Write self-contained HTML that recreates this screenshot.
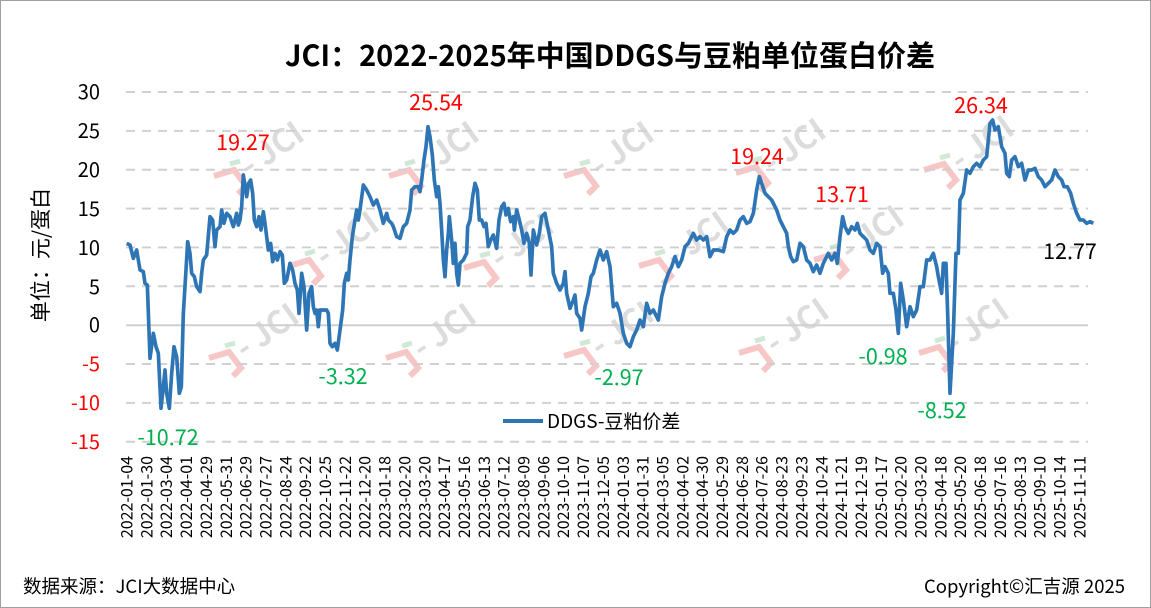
<!DOCTYPE html>
<html><head><meta charset="utf-8"><style>
html,body{margin:0;padding:0;background:#fff}
svg{display:block}
text{font-family:"Noto Sans CJK SC","Liberation Sans",sans-serif}
</style></head><body>
<svg width="1151" height="608" xmlns="http://www.w3.org/2000/svg">
<rect x="0.5" y="0.5" width="1150" height="607" fill="#fff" stroke="#a0a0a0"/>
<defs>
<g id="wm">
<path d="M-36,-2 L-16,-8 L-4,8 L-12,16" fill="none" stroke="#f7c6c6" stroke-width="6"/>
<path d="M-20,-14 L-10,-17" stroke="#cfe9d6" stroke-width="5"/>
<text x="0" y="0" font-size="32" fill="#dcdcdc" transform="rotate(-35)" font-weight="bold">- JCI</text>
</g>
</defs>
<g>
<use href="#wm" x="250" y="178"/><use href="#wm" x="425" y="178"/><use href="#wm" x="600" y="178"/><use href="#wm" x="772" y="175"/><use href="#wm" x="960" y="172"/>
<use href="#wm" x="325" y="268"/><use href="#wm" x="500" y="270"/><use href="#wm" x="675" y="268"/><use href="#wm" x="850" y="262"/>
<use href="#wm" x="245" y="360"/><use href="#wm" x="422" y="360"/><use href="#wm" x="600" y="358"/><use href="#wm" x="775" y="355"/><use href="#wm" x="955" y="355"/>
</g>
<text x="610" y="66" font-size="29" font-weight="bold" text-anchor="middle" fill="#000">JCI：2022-2025年中国DDGS与豆粕单位蛋白价差</text>
<g stroke="#d0d0d0" stroke-width="2" stroke-dasharray="9,7">
<line x1="126" y1="92" x2="1088" y2="92"/><line x1="126" y1="130.9" x2="1088" y2="130.9"/><line x1="126" y1="169.7" x2="1088" y2="169.7"/><line x1="126" y1="208.6" x2="1088" y2="208.6"/><line x1="126" y1="247.4" x2="1088" y2="247.4"/><line x1="126" y1="286.3" x2="1088" y2="286.3"/><line x1="126" y1="364" x2="1088" y2="364"/><line x1="126" y1="402.9" x2="1088" y2="402.9"/><line x1="126" y1="441.7" x2="1088" y2="441.7"/>
</g>
<line x1="126" y1="325.2" x2="1088" y2="325.2" stroke="#d0d0d0" stroke-width="2"/>
<g font-size="20" text-anchor="end">
<text x="100" y="99">30</text><text x="100" y="138">25</text><text x="100" y="177">20</text><text x="100" y="216">15</text><text x="100" y="255">10</text><text x="100" y="294">5</text><text x="100" y="332">0</text>
<text x="100" y="371" fill="#ff0000">-5</text><text x="100" y="410" fill="#ff0000">-10</text><text x="100" y="449" fill="#ff0000">-15</text>
</g>
<text transform="translate(48,255) rotate(-90)" font-size="21" text-anchor="middle">单位：元/蛋白</text>
<g fill="none" stroke="#2e75b6" stroke-width="11" stroke-linejoin="round" transform="translate(100,80) scale(0.33333)">
<polyline points="80,490 90,495 100,535 110,510 120,570 130,575 135,610 142,615 150,835 160,760 168,800 175,820 183,985 190,920 195,870 200,940 208,985 215,880 222,800 230,830 238,940 244,920 250,700 258,570 263,485 270,520 275,580 283,590 290,620 300,635 305,580 310,540 320,525 330,410 338,420 345,500 350,450 360,440 365,390 372,430 380,400 390,410 400,440 410,400 415,435 420,420 425,380 430,285 440,350 446,310 452,300 458,340 463,420 470,440 477,410 483,450 490,395 495,430 500,470 505,510 512,490 518,545 525,520 532,540 540,515 547,525 553,610 560,600 570,550 578,570 585,610 592,630 597,700 605,580 612,620 620,750 627,640 635,620 640,680 645,700 650,690 655,740 660,690 670,690 680,690 685,700 690,790 697,800 705,790 712,810 720,750 728,690 733,610 740,580 745,600 750,540 757,470 765,420 770,390 775,420 780,390 790,315 800,330 810,350 820,375 830,360 840,390 850,430 860,400 865,420 875,430 880,440 890,470 900,475 910,440 920,430 930,390 935,330 945,320 955,320 960,335 965,300 972,240 978,200 984,140 990,170 997,225 1003,300 1010,350 1015,320 1020,370 1025,450 1030,540 1035,590 1040,510 1045,460 1048,410 1055,480 1060,550 1065,490 1070,580 1075,615 1080,550 1090,540 1100,520 1103,440 1110,420 1118,350 1125,310 1132,330 1138,420 1145,420 1152,440 1158,430 1165,500 1172,480 1180,465 1190,505 1197,420 1205,380 1212,370 1218,405 1225,385 1232,425 1240,410 1243,450 1250,390 1258,420 1265,450 1272,490 1280,460 1288,490 1293,585 1300,450 1310,495 1318,460 1325,410 1335,400 1345,450 1355,500 1360,580 1370,610 1380,630 1390,610 1395,575 1400,640 1410,685 1420,660 1425,645 1430,700 1440,715 1445,750 1455,680 1465,640 1473,590 1480,580 1490,540 1500,510 1510,540 1520,515 1530,560 1540,680 1550,670 1560,700 1570,760 1580,790 1590,800 1600,770 1610,750 1620,720 1630,740 1640,670 1650,700 1660,690 1675,720 1685,650 1695,610 1705,580 1715,560 1725,530 1735,560 1745,540 1755,500 1765,490 1780,460 1790,480 1800,470 1810,480 1820,470 1830,530 1840,510 1855,510 1870,515 1880,470 1890,450 1900,460 1910,450 1920,420 1930,410 1940,430 1950,425 1960,400 1970,330 1978,290 1985,310 1995,340 2005,350 2015,360 2030,390 2040,420 2050,440 2060,460 2065,500 2072,530 2080,545 2090,540 2100,490 2110,500 2120,540 2130,550 2140,575 2150,555 2160,580 2170,550 2185,520 2195,540 2205,520 2212,550 2220,470 2228,410 2235,440 2245,460 2255,440 2265,450 2272,430 2280,460 2290,470 2300,480 2310,510 2320,520 2330,490 2340,500 2348,580 2355,560 2365,580 2370,640 2380,640 2388,690 2395,760 2402,610 2410,660 2420,740 2430,680 2440,710 2450,690 2460,620 2470,620 2480,540 2490,540 2500,520 2510,560 2515,590 2525,640 2530,550 2538,550 2543,700 2550,940 2560,760 2568,520 2575,520 2580,360 2590,340 2600,270 2610,280 2620,260 2630,250 2640,260 2650,240 2660,230 2670,130 2678,120 2685,150 2695,140 2705,200 2715,220 2720,280 2728,290 2735,240 2745,230 2755,260 2765,250 2775,300 2785,270 2795,270 2805,265 2815,290 2825,300 2835,320 2845,310 2855,300 2865,270 2875,290 2885,300 2892,320 2902,320 2912,340 2920,370 2930,400 2940,420 2950,420 2960,430 2970,425 2980,430"/>
</g>
<g font-size="21.5" text-anchor="middle">
<text x="243" y="150" fill="#ff0000">19.27</text>
<text x="436" y="110" fill="#ff0000">25.54</text>
<text x="168" y="445" fill="#00b050">-10.72</text>
<text x="343" y="384" fill="#00b050">-3.32</text>
<text x="619" y="385" fill="#00b050">-2.97</text>
<text x="757" y="164" fill="#ff0000">19.24</text>
<text x="842" y="202" fill="#ff0000">13.71</text>
<text x="883" y="364" fill="#00b050">-0.98</text>
<text x="942" y="418" fill="#00b050">-8.52</text>
<text x="981" y="113" fill="#ff0000">26.34</text>
<text x="1070" y="259" fill="#000">12.77</text>
</g>
<line x1="503" y1="421" x2="543" y2="421" stroke="#2e75b6" stroke-width="4"/>
<text x="547" y="428" font-size="19">DDGS-豆粕价差</text>
<g font-size="16" text-anchor="end">
<text transform="translate(132.5,456) rotate(-90)">2022-01-04</text>
<text transform="translate(152.4,456) rotate(-90)">2022-01-30</text>
<text transform="translate(172.2,456) rotate(-90)">2022-03-04</text>
<text transform="translate(192.1,456) rotate(-90)">2022-04-01</text>
<text transform="translate(211.9,456) rotate(-90)">2022-04-29</text>
<text transform="translate(231.8,456) rotate(-90)">2022-05-31</text>
<text transform="translate(251.6,456) rotate(-90)">2022-06-29</text>
<text transform="translate(271.5,456) rotate(-90)">2022-07-27</text>
<text transform="translate(291.3,456) rotate(-90)">2022-08-24</text>
<text transform="translate(311.2,456) rotate(-90)">2022-09-22</text>
<text transform="translate(331,456) rotate(-90)">2022-10-25</text>
<text transform="translate(350.9,456) rotate(-90)">2022-11-22</text>
<text transform="translate(370.7,456) rotate(-90)">2022-12-20</text>
<text transform="translate(390.6,456) rotate(-90)">2023-01-18</text>
<text transform="translate(410.4,456) rotate(-90)">2023-02-20</text>
<text transform="translate(430.3,456) rotate(-90)">2023-03-20</text>
<text transform="translate(450.1,456) rotate(-90)">2023-04-17</text>
<text transform="translate(470,456) rotate(-90)">2023-05-16</text>
<text transform="translate(489.8,456) rotate(-90)">2023-06-13</text>
<text transform="translate(509.7,456) rotate(-90)">2023-07-12</text>
<text transform="translate(529.5,456) rotate(-90)">2023-08-09</text>
<text transform="translate(549.4,456) rotate(-90)">2023-09-06</text>
<text transform="translate(569.2,456) rotate(-90)">2023-10-10</text>
<text transform="translate(589.1,456) rotate(-90)">2023-11-07</text>
<text transform="translate(608.9,456) rotate(-90)">2023-12-05</text>
<text transform="translate(628.8,456) rotate(-90)">2024-01-03</text>
<text transform="translate(648.6,456) rotate(-90)">2024-01-31</text>
<text transform="translate(668.5,456) rotate(-90)">2024-03-05</text>
<text transform="translate(688.3,456) rotate(-90)">2024-04-02</text>
<text transform="translate(708.2,456) rotate(-90)">2024-04-30</text>
<text transform="translate(728,456) rotate(-90)">2024-05-29</text>
<text transform="translate(747.9,456) rotate(-90)">2024-06-28</text>
<text transform="translate(767.7,456) rotate(-90)">2024-07-26</text>
<text transform="translate(787.6,456) rotate(-90)">2024-08-23</text>
<text transform="translate(807.4,456) rotate(-90)">2024-09-23</text>
<text transform="translate(827.3,456) rotate(-90)">2024-10-24</text>
<text transform="translate(847.1,456) rotate(-90)">2024-11-21</text>
<text transform="translate(867,456) rotate(-90)">2024-12-19</text>
<text transform="translate(886.8,456) rotate(-90)">2025-01-17</text>
<text transform="translate(906.7,456) rotate(-90)">2025-02-20</text>
<text transform="translate(926.5,456) rotate(-90)">2025-03-20</text>
<text transform="translate(946.4,456) rotate(-90)">2025-04-18</text>
<text transform="translate(966.2,456) rotate(-90)">2025-05-20</text>
<text transform="translate(986.1,456) rotate(-90)">2025-06-18</text>
<text transform="translate(1005.9,456) rotate(-90)">2025-07-16</text>
<text transform="translate(1025.8,456) rotate(-90)">2025-08-13</text>
<text transform="translate(1045.6,456) rotate(-90)">2025-09-10</text>
<text transform="translate(1065.5,456) rotate(-90)">2025-10-14</text>
<text transform="translate(1085.3,456) rotate(-90)">2025-11-11</text>
</g>
<text x="23" y="593" font-size="18.5">数据来源：JCI大数据中心</text>
<text x="1125" y="593" font-size="18.5" text-anchor="end">Copyright©汇吉源 2025</text>
</svg>
</body></html>
